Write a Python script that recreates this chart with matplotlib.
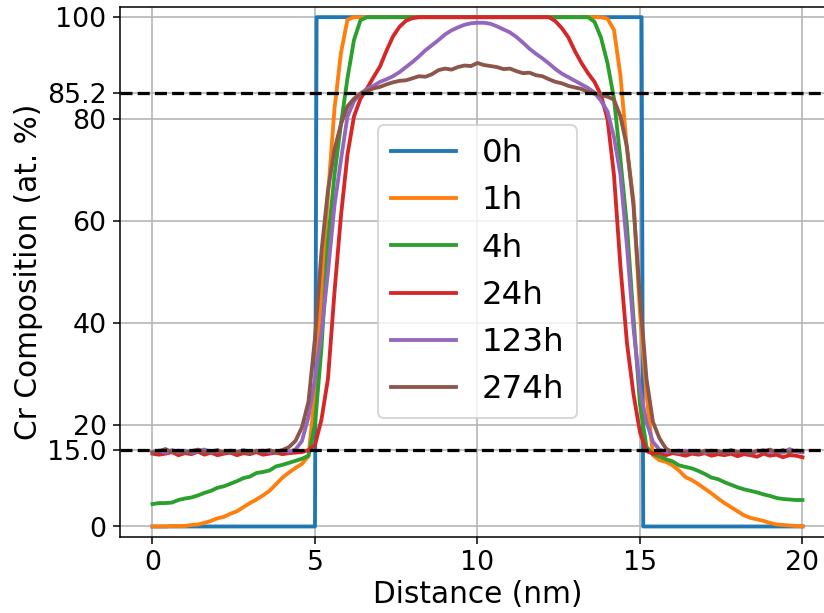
import numpy as np
import matplotlib
matplotlib.use("Agg")
import matplotlib.pyplot as plt

# distance grid (nm) shared by the annealed profiles
dist = np.linspace(0, 20, 101)

# as-deposited step profile
dist_0h = [0.0, 5.0, 5.05, 15.05, 15.1, 20.0]
cr_0h = [0.0, 0.0, 100.0, 100.0, 0.0, 0.0]

cr_1h = ([0.0, 0.0, 0.0, 0.1, 0.1, 0.1, 0.3, 0.4, 0.7, 1.1, 1.6, 1.9, 2.5, 3.0, 3.8,
          4.6, 5.3, 6.1, 7.0, 8.3, 9.6, 10.6, 11.5, 12.3, 13.8,
          26.0, 46.0, 65.0, 82.0, 93.0, 99.5]
         + [100.0] * 39
         + [99.7, 97.5, 88.5, 74.0, 64.0, 42.0, 26.0, 14.0, 13.0, 12.7, 12.0, 11.0,
            9.7, 9.1, 8.3, 7.4, 6.5, 5.5, 4.6, 3.8, 3.0, 2.2, 1.7, 1.4, 1.1, 0.7,
            0.4, 0.3, 0.2, 0.1, 0.1])

cr_4h = ([4.4, 4.6, 4.6, 4.7, 5.2, 5.5, 5.7, 6.1, 6.6, 7.0, 7.6, 7.9, 8.4, 8.9, 9.5,
          9.8, 10.5, 10.7, 11.0, 11.8, 12.1, 12.5, 12.9, 13.3, 13.9,
          20.0, 35.0, 56.0, 69.0, 79.0, 88.0, 95.5, 99.4]
         + [100.0] * 35
         + [99.1, 96.0, 91.0, 84.0, 72.0, 59.0, 41.0, 24.0, 15.6, 14.2, 13.8, 13.2,
            12.8, 12.0, 11.7, 11.4, 10.9, 10.3, 9.6, 9.3, 8.7, 8.2, 7.7, 7.3, 7.0,
            6.7, 6.3, 6.0, 5.6, 5.4, 5.3, 5.2, 5.2])

cr_24h = ([14.3, 14.1, 14.3, 14.6, 14.0, 14.4, 14.2, 14.7, 14.1, 14.5, 14.0, 14.3,
           14.5, 14.0, 14.4, 14.2, 14.6, 14.1, 14.3, 14.5, 14.2, 14.4, 14.5, 14.6, 15.0,
           16.0, 21.0, 29.0, 46.0, 61.0, 73.0, 80.5, 84.0, 86.0, 88.2, 90.3, 93.4,
           96.2, 98.1, 99.3, 99.8]
          + [100.0] * 21
          + [99.2, 97.8, 96.0, 93.3, 91.0, 89.0, 87.3, 84.7, 80.0, 69.0, 51.0, 36.0,
             26.0, 18.5, 14.8, 14.3,
             14.5, 14.0, 14.4, 14.2, 13.9, 14.3, 14.1, 14.4, 13.9, 14.2, 14.0, 14.3,
             13.8, 14.2, 14.0, 13.7, 14.3, 13.9, 14.1, 13.6, 14.0, 13.9, 13.6])

cr_123h = [14.6, 14.9, 14.5, 15.0, 14.6, 14.9, 14.5, 14.8, 15.1, 14.6, 14.9, 14.5,
           14.8, 14.6, 15.0, 14.5, 14.8, 14.9, 14.6, 14.8, 14.9, 14.7, 15.1,
           16.8, 21.5, 29.0, 38.0, 50.0, 63.0, 72.0, 80.5, 83.5, 85.0, 85.9, 86.5,
           87.3, 87.8, 88.4, 89.2, 90.2, 91.2, 92.3, 93.5, 94.5, 95.5, 96.6, 97.4,
           98.0, 98.5, 98.8, 98.9, 98.9, 98.7, 98.2, 97.6, 97.0, 96.1, 95.0, 93.8,
           92.8, 91.9, 90.9, 89.8, 88.9, 88.2, 87.5, 86.8, 86.1, 85.2, 83.6, 81.5,
           76.5, 69.0, 55.0, 39.0, 27.0, 20.5, 16.6, 15.1,
           14.6, 14.8, 14.5, 14.9, 14.6, 14.8, 14.5, 14.9, 14.7, 14.5, 14.8, 14.6,
           14.9, 14.5, 14.7, 15.0, 14.6, 14.8, 14.5, 15.2, 14.7, 14.6]

cr_274h = [14.5, 14.8, 15.2, 14.6, 14.9, 14.4, 14.8, 15.1, 14.6, 14.7, 15.0, 14.5,
           14.9, 14.6, 14.8, 14.4, 14.9, 14.7, 15.0, 14.6, 15.0,
           15.6, 16.8, 19.5, 24.5, 37.0, 54.0, 66.0, 74.0, 79.0, 82.5, 84.0, 85.0,
           85.5, 86.0, 86.3, 86.8, 87.2, 87.5, 87.6, 88.0, 88.4, 88.3, 88.8, 89.6,
           89.9, 89.7, 90.2, 90.5, 90.4, 91.0, 90.6, 90.4, 90.2, 89.8, 89.9, 89.4,
           89.0, 89.1, 88.6, 88.4, 87.8, 87.3, 87.0, 86.5, 86.2, 85.9, 85.3, 85.0,
           84.7, 84.4, 83.8, 80.5, 74.5, 63.0, 45.0, 29.0, 20.5, 17.3, 15.3, 14.6,
           14.9, 14.5, 14.8, 14.4, 14.9, 14.6, 14.8, 14.5, 15.0, 14.6, 14.8, 14.4,
           14.9, 14.7, 15.1, 14.6, 15.0, 14.5, 14.9, 14.8]

labels = ['0h', '1h', '4h', '24h', '123h', '274h']
ref_levels = [85.2, 15.0]
xticks = [0, 5, 10, 15, 20]
yticks = [0, 15.0, 20, 40, 60, 80, 85.2, 100]
ytick_labels = ['0', '15.0', '20', '40', '60', '80', '85.2', '100']

fig = plt.figure(figsize=(5.9928, 4.4583), dpi=137.5)
ax = fig.add_axes([0.1456, 0.1245, 0.8677, 0.8641])

lw = 2.0
ax.plot(dist_0h, cr_0h, lw=lw, label=labels[0])
for cr, lab in zip([cr_1h, cr_4h, cr_24h, cr_123h, cr_274h], labels[1:]):
    ax.plot(dist, cr, lw=lw, label=lab)

for lvl in ref_levels:
    ax.axhline(lvl, color='k', ls='--', lw=1.7)

ax.set_xlim(-1, 21)
ax.set_ylim(-2, 102)
ax.set_xticks(xticks)
ax.set_yticks(yticks)
ax.set_yticklabels(ytick_labels)
ax.tick_params(labelsize=14)
ax.grid(True)
ax.set_xlabel('Distance (nm)', fontsize=15.5, labelpad=2)
ax.set_ylabel('Cr Composition (at. %)', fontsize=15.5, labelpad=2)
ax.legend(loc='center', fontsize=17)

fig.savefig('out.png', dpi=137.5)
